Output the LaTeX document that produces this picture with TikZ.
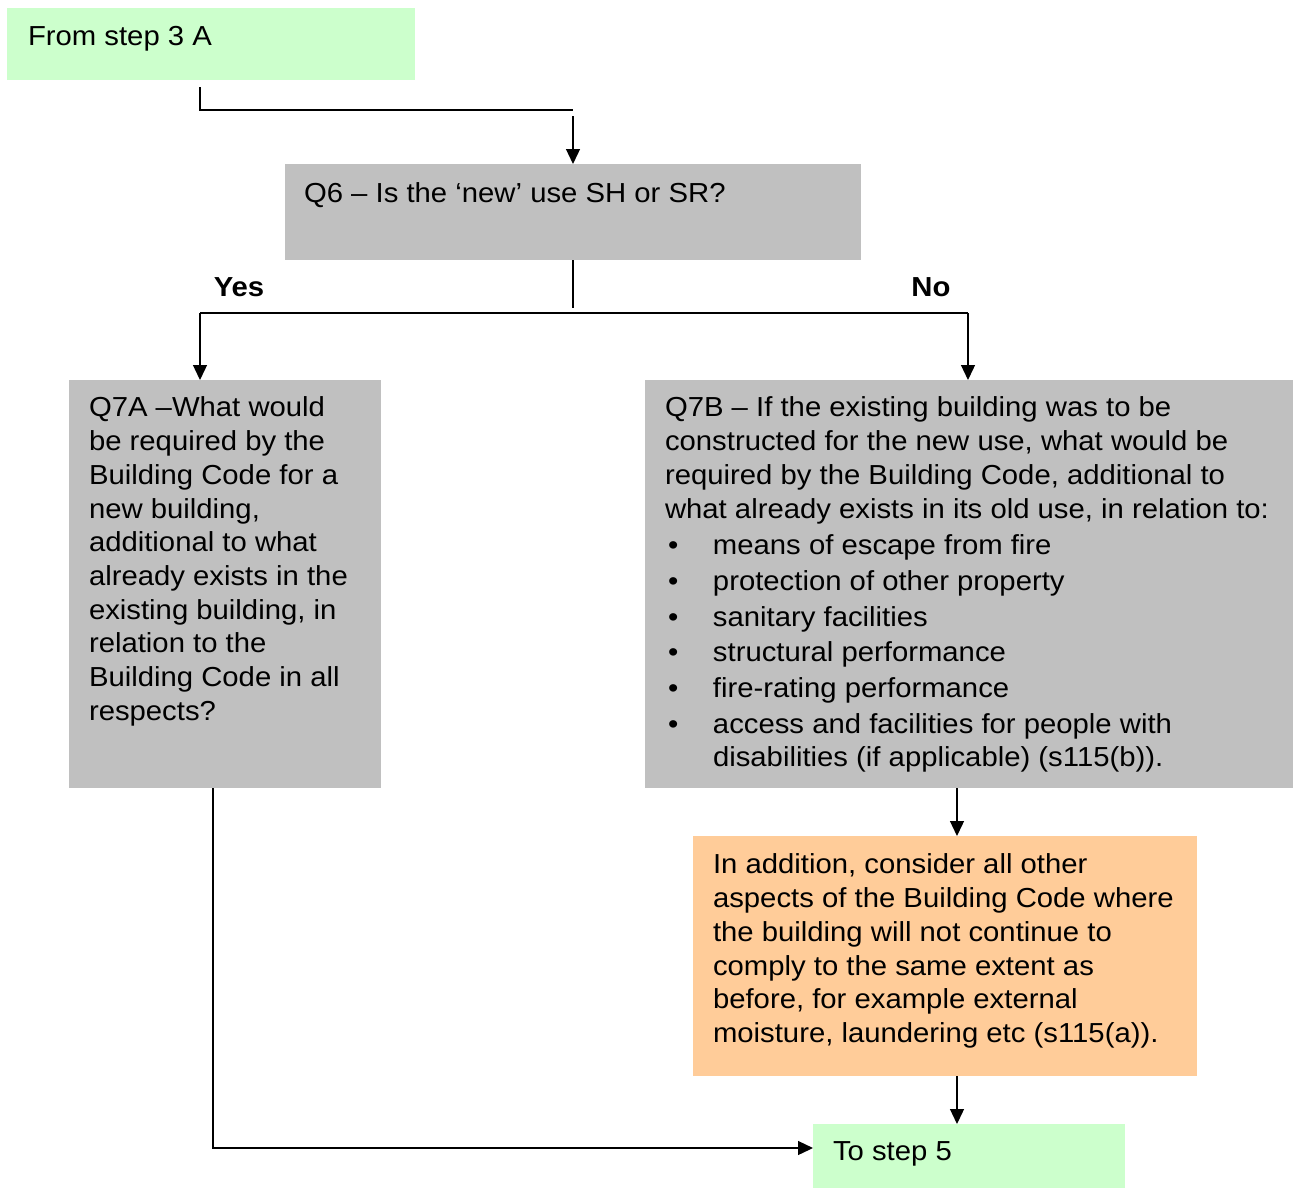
\documentclass[tikz,border=0pt]{standalone}
\usepackage{fontspec}
\setmainfont{Liberation Sans}[FakeStretch=1.065]
\usetikzlibrary{arrows.meta,calc}
\definecolor{startgreen}{HTML}{CCFFCC}
\definecolor{qgrey}{HTML}{C0C0C0}
\definecolor{noteorange}{HTML}{FFCC99}
\newcommand\flowbullet{\makebox[48pt][l]{\hspace*{3pt}•}}
\tikzset{
  flow/.style={line width=1.3pt, draw=black},
  arr/.style={flow, -{Triangle[length=15pt,width=14pt]}},
  panel/.style={inner sep=0pt, outer sep=0pt, anchor=north west},
  body/.style={inner sep=0pt, outer sep=0pt, anchor=north west, align=left,
    font=\fontsize{27.5}{33.7}\selectfont},
  tag/.style={inner sep=0pt, font=\bfseries\fontsize{27.5}{33.7}\selectfont},
}
\begin{document}
\begin{tikzpicture}[x=1pt,y=-1pt]
\useasboundingbox (0,0) rectangle (1295,1189);

% boxes
\node[panel, fill=startgreen, minimum width=408pt, minimum height=72pt] (start) at (7,8) {};
\node[panel, fill=qgrey, minimum width=576pt, minimum height=96pt] (q6) at (285,164) {};
\node[panel, fill=qgrey, minimum width=312pt, minimum height=408pt] (q7a) at (69,380) {};
\node[panel, fill=qgrey, minimum width=648pt, minimum height=408pt] (q7b) at (645,380) {};
\node[panel, fill=noteorange, minimum width=504pt, minimum height=240pt] (note) at (693,836) {};
\node[panel, fill=startgreen, minimum width=312pt, minimum height=64pt] (finish) at (813,1124) {};

% texts
\node[body] (startt) at ($(start.north west)+(21,18)$) {From step 3 A};
\node[body] (q6t) at ($(q6.north west)+(19,19)$) {Q6 – Is the ‘new’ use SH or SR?};
\node[body] (q7at) at ($(q7a.north west)+(20,17)$) {Q7A –What would\\
be required by the\\
Building Code for a\\
new building,\\
additional to what\\
already exists in the\\
existing building, in\\
relation to the\\
Building Code in all\\
respects?};
\node[body] (q7bt) at ($(q7b.north west)+(20,17)$) {Q7B – If the existing building was to be\\
constructed for the new use, what would be\\
required by the Building Code, additional to\\
what already exists in its old use, in relation to:\\[3pt]
\flowbullet means of escape from fire\\[2pt]
\flowbullet protection of other property\\[2pt]
\flowbullet sanitary facilities\\[2pt]
\flowbullet structural performance\\[2pt]
\flowbullet fire-rating performance\\[2pt]
\flowbullet access and facilities for people with\\
\hspace*{48pt}disabilities (if applicable) (s115(b)).};
\node[body] (notet) at ($(note.north west)+(20,18)$) {In addition, consider all other\\
aspects of the Building Code where\\
the building will not continue to\\
comply to the same extent as\\
before, for example external\\
moisture, laundering etc (s115(a)).};
\node[body] (finisht) at ($(finish.north west)+(20,18)$) {To step 5};

\node[tag] (yes) at (239,287) {Yes};
\node[tag] (no) at (931,287) {No};

% connector points
\coordinate (s1) at (200,87);
\coordinate (s2) at (573,110);
\coordinate (s3) at (573,116);
\coordinate (b0) at (573,308);
\coordinate (bl) at (200,313);
\coordinate (br) at (968,313);
\coordinate (a1) at (213,788);
\coordinate (a2) at (813,1148);
\coordinate (c1) at (957,788);
\coordinate (c2) at (957,836);
\coordinate (d1) at (957,1076);
\coordinate (d2) at (957,1124);

% connectors
\draw[flow] (s1) |- (s2);
\draw[arr] (s3) -- (q6.north);
\draw[flow] (q6.south) -- (b0);
\draw[flow] (bl) -- (br);
\draw[arr] (bl) -- (bl |- q7a.north);
\draw[arr] (br) -- (br |- q7b.north);
\draw[arr] (a1) |- (a2);
\draw[arr] (c1) -- (c2);
\draw[arr] (d1) -- (d2);
\end{tikzpicture}
\end{document}
